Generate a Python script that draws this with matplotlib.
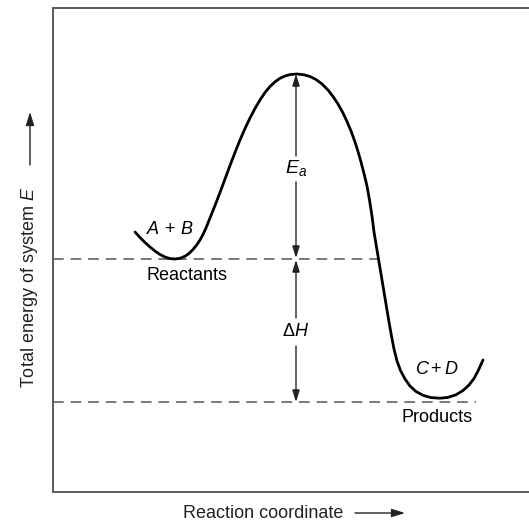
"""Potential energy diagram: reactants -> transition state -> products."""

import matplotlib
matplotlib.use("Agg")
import matplotlib.pyplot as plt

plt.rcParams["font.family"] = ["Liberation Sans", "DejaVu Sans"]
plt.rcParams["mathtext.fontset"] = "custom"
plt.rcParams["mathtext.rm"] = "Liberation Sans"
plt.rcParams["mathtext.it"] = "Liberation Sans:italic"

W, H = 529, 522

# traced energy curve (x along reaction coordinate, y = energy, drawn
# with the axes in the same units as the picture, y pointing down)
curve_x = [135, 140, 145, 150, 155, 160, 165, 170, 175, 180, 185, 189, 193,
           197, 200, 203, 206, 209, 212, 216, 220, 225, 230, 235, 240, 245,
           250, 255, 260, 265, 270, 275, 280, 285, 290, 297, 304, 310, 316,
           322, 328, 333, 338, 343, 347, 351, 355, 358, 361, 364, 367, 369.5,
           372, 374, 376.5, 379, 381.5, 384, 386.5, 389, 391.5, 394, 397,
           400.5, 405, 410, 416, 423, 431, 440, 448, 456, 463, 469, 474, 478,
           481, 483]
curve_y = [232, 237.5, 242.5, 247, 251, 254.5, 257, 258.6, 259, 258.3, 256.2,
           253.5, 249.5, 244.5, 240, 234.5, 228, 220.5, 213, 203, 192.5, 179,
           165.5, 152.5, 140, 128.5, 118, 108.5, 100, 92.5, 86.5, 81.8, 78.3,
           76, 74.6, 74, 74.8, 76.5, 79.5, 84, 90, 96.5, 104, 113, 121.5, 131,
           142, 151.5, 162, 173.5, 186, 200, 216, 232, 247, 262, 277, 292, 307,
           322, 336, 349, 361, 370.5, 379, 386, 391.5, 395.3, 397.6, 398.2,
           397.4, 394.8, 390.5, 385, 378.5, 371, 364.5, 360]

REACT_E, PROD_E, PEAK_E = 259, 402, 74
ARROW_X = 296
REACT_DASH_END, PROD_DASH_END = 377, 476

fig = plt.figure(figsize=(W / 100, H / 100), dpi=100)
ax = fig.add_axes([53 / W, (H - 492) / H, (W - 53) / W, (492 - 8) / H])
ax.set_xlim(53, W)
ax.set_ylim(492, 8)
ax.set_xticks([])
ax.set_yticks([])
for side in ("top", "left", "bottom"):
    ax.spines[side].set_color("#5a5a5a")
    ax.spines[side].set_linewidth(1.4)
ax.spines["right"].set_visible(False)

ax.plot(curve_x, curve_y, color="black", lw=2.0, solid_joinstyle="round",
        solid_capstyle="round", zorder=3)

dash = dict(color="#555555", lw=1.1, dashes=(7, 4.5))
ax.plot([53, REACT_DASH_END], [REACT_E, REACT_E], **dash)
ax.plot([53, PROD_DASH_END], [PROD_E, PROD_E], **dash)

arr = dict(arrowstyle="-|>,head_length=0.7,head_width=0.22",
           color="#222222", lw=1.0, shrinkA=0, shrinkB=0)
ax.annotate("", xy=(ARROW_X, PEAK_E), xytext=(ARROW_X, 156), arrowprops=arr)
ax.annotate("", xy=(ARROW_X, REACT_E - 1), xytext=(ARROW_X, 182), arrowprops=arr)
ax.annotate("", xy=(ARROW_X, REACT_E + 1), xytext=(ARROW_X, 318), arrowprops=arr)
ax.annotate("", xy=(ARROW_X, PROD_E), xytext=(ARROW_X, 346), arrowprops=arr)

fs = 13
ax.text(ARROW_X, 168, "$E_a$", ha="center", va="center", fontsize=fs + 1)
ax.text(ARROW_X, 332, r"$\Delta H$", ha="center", va="center", fontsize=fs)
ax.text(170, 229, r"$A\,+\,B$", ha="center", va="center", fontsize=fs)
ax.text(187, 275, "Reactants", ha="center", va="center", fontsize=fs)
ax.text(437, 369, "$C + D$", ha="center", va="center", fontsize=fs)
ax.text(437, 418, "Products", ha="center", va="center", fontsize=fs)

# axis titles with their arrows, placed in figure pixels
fig.text(263 / W, 1 - 513 / H, "Reaction coordinate", ha="center",
         va="center", fontsize=fs, color="#222222")
fig.text(30 / W, 1 - 287 / H, "Total energy of system $E$", ha="center",
         va="center", rotation=90, fontsize=fs, color="#222222")
farr = dict(arrowstyle="-|>,head_length=0.8,head_width=0.25",
            color="#222222", lw=1.0, shrinkA=0, shrinkB=0)
ax.annotate("", xy=(405 / W, 1 - 513 / H), xytext=(355 / W, 1 - 513 / H),
            xycoords="figure fraction", textcoords="figure fraction",
            arrowprops=farr, annotation_clip=False)
ax.annotate("", xy=(30 / W, 1 - 112 / H), xytext=(30 / W, 1 - 165 / H),
            xycoords="figure fraction", textcoords="figure fraction",
            arrowprops=farr, annotation_clip=False)

fig.savefig("out.png", dpi=100)
